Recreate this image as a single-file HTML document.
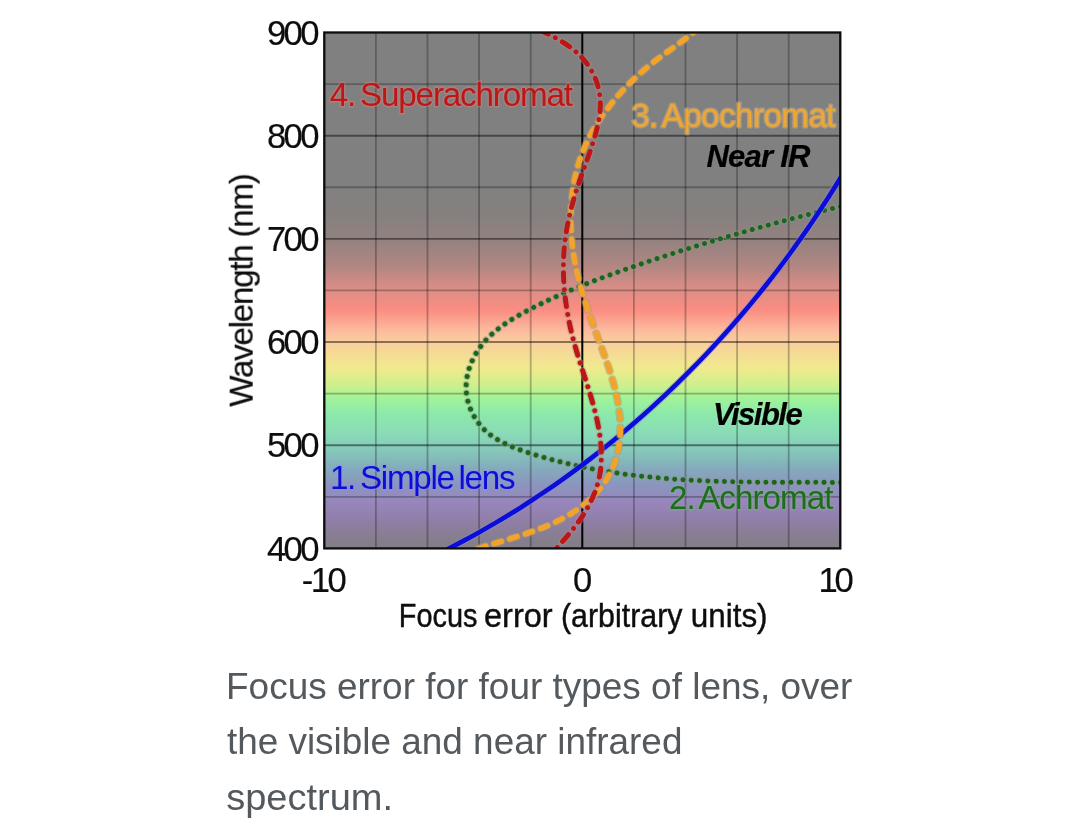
<!DOCTYPE html>
<html lang="en"><head><meta charset="utf-8"><title>Focus error for four types of lens</title>
<style>
html,body{margin:0;padding:0;background:#fff;}
body{width:1080px;height:840px;overflow:hidden;position:relative;font-family:"Liberation Sans",sans-serif;}
svg{position:absolute;left:0;top:0;display:block;}
svg text{font-family:"Liberation Sans",sans-serif;}
.gm{stroke:#000;stroke-opacity:.27;stroke-width:1.8;}
.gM{stroke:#000;stroke-opacity:.46;stroke-width:1.9;}
.cv{fill:none;stroke-linejoin:round;}
.halo{fill:none;stroke-opacity:.5;}
.lab{paint-order:stroke fill;stroke-linejoin:round;stroke-width:2.8;stroke-opacity:.36;}
</style></head>
<body>
<svg width="1080" height="840" viewBox="0 0 1080 840">
<defs>
<linearGradient id="sp" x1="0" y1="0" x2="0" y2="1"><stop offset="0.0000" stop-color="rgb(128,128,128)"/><stop offset="0.3000" stop-color="rgb(129,128,128)"/><stop offset="0.3560" stop-color="rgb(134,128,127)"/><stop offset="0.4000" stop-color="rgb(146,130,128)"/><stop offset="0.4500" stop-color="rgb(175,134,130)"/><stop offset="0.5000" stop-color="rgb(222,142,135)"/><stop offset="0.5380" stop-color="rgb(251,141,129)"/><stop offset="0.5760" stop-color="rgb(252,185,158)"/><stop offset="0.6000" stop-color="rgb(250,206,156)"/><stop offset="0.6500" stop-color="rgb(240,234,142)"/><stop offset="0.6840" stop-color="rgb(205,240,140)"/><stop offset="0.7100" stop-color="rgb(160,243,154)"/><stop offset="0.7400" stop-color="rgb(140,233,172)"/><stop offset="0.7800" stop-color="rgb(137,218,183)"/><stop offset="0.8100" stop-color="rgb(134,200,186)"/><stop offset="0.8440" stop-color="rgb(132,172,188)"/><stop offset="0.8760" stop-color="rgb(138,150,190)"/><stop offset="0.9100" stop-color="rgb(152,134,188)"/><stop offset="0.9500" stop-color="rgb(142,126,165)"/><stop offset="0.9800" stop-color="rgb(134,126,142)"/><stop offset="1.0000" stop-color="rgb(130,126,134)"/></linearGradient>
<filter id="bl" x="-5%" y="-5%" width="110%" height="110%"><feGaussianBlur stdDeviation="0.7"/></filter>
<clipPath id="cp"><rect x="324.3" y="32.5" width="516.0" height="515.9"/></clipPath>
</defs>
<g filter="url(#bl)">
<rect x="324.3" y="32.5" width="516.00" height="515.90" fill="url(#sp)"/>
<g><line x1="375.90" y1="32.50" x2="375.90" y2="548.40" class="gm"/><line x1="427.50" y1="32.50" x2="427.50" y2="548.40" class="gm"/><line x1="479.10" y1="32.50" x2="479.10" y2="548.40" class="gm"/><line x1="530.70" y1="32.50" x2="530.70" y2="548.40" class="gm"/><line x1="633.90" y1="32.50" x2="633.90" y2="548.40" class="gm"/><line x1="685.50" y1="32.50" x2="685.50" y2="548.40" class="gm"/><line x1="737.10" y1="32.50" x2="737.10" y2="548.40" class="gm"/><line x1="788.70" y1="32.50" x2="788.70" y2="548.40" class="gm"/><line x1="324.30" y1="84.09" x2="840.30" y2="84.09" class="gm"/><line x1="324.30" y1="135.68" x2="840.30" y2="135.68" class="gM"/><line x1="324.30" y1="187.27" x2="840.30" y2="187.27" class="gm"/><line x1="324.30" y1="238.86" x2="840.30" y2="238.86" class="gM"/><line x1="324.30" y1="290.45" x2="840.30" y2="290.45" class="gm"/><line x1="324.30" y1="342.04" x2="840.30" y2="342.04" class="gM"/><line x1="324.30" y1="393.63" x2="840.30" y2="393.63" class="gm"/><line x1="324.30" y1="445.22" x2="840.30" y2="445.22" class="gM"/><line x1="324.30" y1="496.81" x2="840.30" y2="496.81" class="gm"/></g>
<line x1="582.30" y1="32.5" x2="582.30" y2="548.4" stroke="#000" stroke-width="2.0"/>
<g clip-path="url(#cp)" stroke-linecap="round">
<path class="halo" d="M848.72 204.64C844.01 205.74 839.30 206.87 834.58 208.01C829.87 209.15 825.15 210.30 820.44 211.48C815.72 212.65 811.00 213.84 806.28 215.04C801.56 216.24 796.84 217.47 792.12 218.70C787.40 219.94 782.68 221.19 777.97 222.46C773.25 223.73 768.53 225.01 763.82 226.31C759.10 227.61 754.39 228.93 749.68 230.26C744.97 231.59 740.27 232.93 735.57 234.30C730.86 235.66 726.17 237.03 721.47 238.43C716.78 239.82 712.09 241.23 707.41 242.65C702.73 244.07 698.05 245.51 693.38 246.96C688.72 248.41 684.05 249.88 679.40 251.36C674.74 252.84 670.10 254.34 665.46 255.85C660.82 257.36 656.19 258.89 651.57 260.43C646.95 261.97 642.34 263.53 637.74 265.09C633.14 266.66 628.55 268.25 623.97 269.86C619.40 271.46 614.83 273.09 610.27 274.76C605.72 276.42 601.17 278.11 596.64 279.83C592.11 281.56 587.59 283.33 583.08 285.13C578.57 286.94 574.08 288.80 569.59 290.70C565.11 292.61 560.64 294.57 556.19 296.58C551.73 298.60 547.29 300.67 542.86 302.81C538.43 304.96 534.02 307.16 529.62 309.44C525.22 311.72 520.84 314.08 516.56 316.57C512.28 319.07 508.09 321.69 504.06 324.50C500.04 327.31 496.19 330.31 492.58 333.55C488.97 336.79 485.60 340.27 482.54 344.05C479.49 347.83 476.75 351.93 474.41 356.28C472.08 360.62 470.16 365.20 468.75 369.90C467.35 374.60 466.46 379.42 466.19 384.24C465.92 389.06 466.30 393.89 467.28 398.60C468.26 403.32 469.83 407.91 471.90 412.26C473.98 416.60 476.56 420.70 479.56 424.43C482.56 428.15 485.99 431.47 489.74 434.39C493.49 437.31 497.57 439.85 501.87 442.11C506.18 444.37 510.70 446.35 515.34 448.14C519.97 449.94 524.73 451.55 529.49 453.08C534.26 454.61 539.03 456.05 543.81 457.42C548.58 458.79 553.36 460.09 558.14 461.31C562.92 462.53 567.70 463.68 572.49 464.77C577.28 465.85 582.07 466.87 586.87 467.82C591.66 468.78 596.46 469.67 601.26 470.50C606.07 471.33 610.87 472.11 615.68 472.82C620.49 473.54 625.30 474.21 630.12 474.82C634.93 475.43 639.75 476.00 644.58 476.51C649.40 477.03 654.23 477.50 659.06 477.93C663.89 478.36 668.72 478.74 673.56 479.09C678.40 479.44 683.24 479.75 688.08 480.03C692.93 480.30 697.78 480.55 702.63 480.76C707.48 480.97 712.34 481.16 717.20 481.32C722.06 481.48 726.92 481.61 731.79 481.72C736.65 481.83 741.52 481.92 746.40 482.00C751.27 482.07 756.15 482.13 761.03 482.17C765.91 482.22 770.79 482.25 775.68 482.27C780.57 482.29 785.46 482.31 790.36 482.32C795.25 482.33 800.15 482.33 805.05 482.34C809.96 482.34 814.86 482.35 819.77 482.36C824.68 482.37 829.60 482.38 834.51 482.40C839.43 482.42 844.35 482.45 849.28 482.49" stroke-width="7.3" stroke="#8a9a8a" stroke-dasharray="0.01 8.29"/>
<path class="cv" d="M848.72 204.64C844.01 205.74 839.30 206.87 834.58 208.01C829.87 209.15 825.15 210.30 820.44 211.48C815.72 212.65 811.00 213.84 806.28 215.04C801.56 216.24 796.84 217.47 792.12 218.70C787.40 219.94 782.68 221.19 777.97 222.46C773.25 223.73 768.53 225.01 763.82 226.31C759.10 227.61 754.39 228.93 749.68 230.26C744.97 231.59 740.27 232.93 735.57 234.30C730.86 235.66 726.17 237.03 721.47 238.43C716.78 239.82 712.09 241.23 707.41 242.65C702.73 244.07 698.05 245.51 693.38 246.96C688.72 248.41 684.05 249.88 679.40 251.36C674.74 252.84 670.10 254.34 665.46 255.85C660.82 257.36 656.19 258.89 651.57 260.43C646.95 261.97 642.34 263.53 637.74 265.09C633.14 266.66 628.55 268.25 623.97 269.86C619.40 271.46 614.83 273.09 610.27 274.76C605.72 276.42 601.17 278.11 596.64 279.83C592.11 281.56 587.59 283.33 583.08 285.13C578.57 286.94 574.08 288.80 569.59 290.70C565.11 292.61 560.64 294.57 556.19 296.58C551.73 298.60 547.29 300.67 542.86 302.81C538.43 304.96 534.02 307.16 529.62 309.44C525.22 311.72 520.84 314.08 516.56 316.57C512.28 319.07 508.09 321.69 504.06 324.50C500.04 327.31 496.19 330.31 492.58 333.55C488.97 336.79 485.60 340.27 482.54 344.05C479.49 347.83 476.75 351.93 474.41 356.28C472.08 360.62 470.16 365.20 468.75 369.90C467.35 374.60 466.46 379.42 466.19 384.24C465.92 389.06 466.30 393.89 467.28 398.60C468.26 403.32 469.83 407.91 471.90 412.26C473.98 416.60 476.56 420.70 479.56 424.43C482.56 428.15 485.99 431.47 489.74 434.39C493.49 437.31 497.57 439.85 501.87 442.11C506.18 444.37 510.70 446.35 515.34 448.14C519.97 449.94 524.73 451.55 529.49 453.08C534.26 454.61 539.03 456.05 543.81 457.42C548.58 458.79 553.36 460.09 558.14 461.31C562.92 462.53 567.70 463.68 572.49 464.77C577.28 465.85 582.07 466.87 586.87 467.82C591.66 468.78 596.46 469.67 601.26 470.50C606.07 471.33 610.87 472.11 615.68 472.82C620.49 473.54 625.30 474.21 630.12 474.82C634.93 475.43 639.75 476.00 644.58 476.51C649.40 477.03 654.23 477.50 659.06 477.93C663.89 478.36 668.72 478.74 673.56 479.09C678.40 479.44 683.24 479.75 688.08 480.03C692.93 480.30 697.78 480.55 702.63 480.76C707.48 480.97 712.34 481.16 717.20 481.32C722.06 481.48 726.92 481.61 731.79 481.72C736.65 481.83 741.52 481.92 746.40 482.00C751.27 482.07 756.15 482.13 761.03 482.17C765.91 482.22 770.79 482.25 775.68 482.27C780.57 482.29 785.46 482.31 790.36 482.32C795.25 482.33 800.15 482.33 805.05 482.34C809.96 482.34 814.86 482.35 819.77 482.36C824.68 482.37 829.60 482.38 834.51 482.40C839.43 482.42 844.35 482.45 849.28 482.49" stroke="#1a661c" stroke-width="5" stroke-dasharray="0.01 8.29"/>
<path class="halo" d="M445.46 550.25C451.16 547.36 456.84 544.41 462.48 541.40C468.12 538.39 473.73 535.32 479.30 532.19C484.87 529.07 490.40 525.88 495.90 522.64C501.40 519.40 506.87 516.10 512.30 512.74C517.72 509.39 523.12 505.98 528.47 502.51C533.83 499.04 539.14 495.52 544.42 491.95C549.70 488.37 554.95 484.75 560.15 481.07C565.36 477.39 570.53 473.65 575.66 469.87C580.79 466.08 585.88 462.25 590.93 458.36C595.98 454.47 600.99 450.54 605.97 446.55C610.94 442.57 615.87 438.53 620.77 434.45C625.66 430.36 630.52 426.23 635.33 422.06C640.14 417.88 644.92 413.65 649.65 409.38C654.38 405.11 659.07 400.79 663.72 396.43C668.37 392.07 672.98 387.66 677.54 383.21C682.11 378.76 686.63 374.27 691.11 369.73C695.59 365.19 700.03 360.61 704.43 355.99C708.82 351.37 713.17 346.71 717.48 342.01C721.79 337.30 726.05 332.56 730.27 327.78C734.49 322.99 738.67 318.17 742.80 313.31C746.93 308.45 751.01 303.56 755.05 298.62C759.09 293.69 763.09 288.71 767.04 283.71C770.99 278.70 774.89 273.65 778.75 268.57C782.60 263.50 786.42 258.38 790.18 253.24C793.94 248.09 797.66 242.91 801.33 237.69C805.00 232.48 808.62 227.23 812.19 221.96C815.77 216.68 819.29 211.37 822.77 206.03C826.24 200.69 829.67 195.32 833.05 189.92C836.43 184.52 839.76 179.09 843.04 173.63" stroke-width="6.8" stroke="#9090c0" stroke-linecap="butt"/>
<path class="cv" d="M445.46 550.25C451.16 547.36 456.84 544.41 462.48 541.40C468.12 538.39 473.73 535.32 479.30 532.19C484.87 529.07 490.40 525.88 495.90 522.64C501.40 519.40 506.87 516.10 512.30 512.74C517.72 509.39 523.12 505.98 528.47 502.51C533.83 499.04 539.14 495.52 544.42 491.95C549.70 488.37 554.95 484.75 560.15 481.07C565.36 477.39 570.53 473.65 575.66 469.87C580.79 466.08 585.88 462.25 590.93 458.36C595.98 454.47 600.99 450.54 605.97 446.55C610.94 442.57 615.87 438.53 620.77 434.45C625.66 430.36 630.52 426.23 635.33 422.06C640.14 417.88 644.92 413.65 649.65 409.38C654.38 405.11 659.07 400.79 663.72 396.43C668.37 392.07 672.98 387.66 677.54 383.21C682.11 378.76 686.63 374.27 691.11 369.73C695.59 365.19 700.03 360.61 704.43 355.99C708.82 351.37 713.17 346.71 717.48 342.01C721.79 337.30 726.05 332.56 730.27 327.78C734.49 322.99 738.67 318.17 742.80 313.31C746.93 308.45 751.01 303.56 755.05 298.62C759.09 293.69 763.09 288.71 767.04 283.71C770.99 278.70 774.89 273.65 778.75 268.57C782.60 263.50 786.42 258.38 790.18 253.24C793.94 248.09 797.66 242.91 801.33 237.69C805.00 232.48 808.62 227.23 812.19 221.96C815.77 216.68 819.29 211.37 822.77 206.03C826.24 200.69 829.67 195.32 833.05 189.92C836.43 184.52 839.76 179.09 843.04 173.63" stroke="#0808da" stroke-width="4.6" stroke-linecap="butt"/>
<path class="halo" d="M698.43 27.67C695.11 30.83 691.66 33.78 688.12 36.59C684.59 39.41 680.98 42.10 677.34 44.73C673.70 47.37 670.02 49.95 666.37 52.57C662.72 55.19 659.08 57.83 655.52 60.58C651.95 63.33 648.44 66.18 645.01 69.12C641.57 72.05 638.20 75.08 634.91 78.19C631.63 81.30 628.42 84.49 625.30 87.77C622.17 91.04 619.14 94.40 616.20 97.83C613.26 101.27 610.42 104.78 607.68 108.36C604.94 111.94 602.30 115.59 599.80 119.32C597.29 123.05 594.91 126.85 592.69 130.75C590.47 134.65 588.41 138.64 586.53 142.72C584.64 146.80 582.93 150.97 581.39 155.20C579.85 159.43 578.48 163.72 577.29 168.06C576.10 172.40 575.08 176.79 574.23 181.22C573.37 185.65 572.68 190.11 572.15 194.60C571.61 199.09 571.23 203.61 571.00 208.13C570.77 212.66 570.69 217.20 570.75 221.74C570.81 226.28 571.00 230.82 571.33 235.34C571.67 239.87 572.13 244.39 572.72 248.88C573.30 253.37 574.02 257.83 574.85 262.26C575.68 266.70 576.62 271.09 577.67 275.44C578.72 279.80 579.87 284.13 581.10 288.43C582.33 292.73 583.64 297.01 585.01 301.28C586.39 305.54 587.83 309.80 589.31 314.04C590.79 318.29 592.31 322.53 593.86 326.78C595.41 331.02 596.99 335.27 598.57 339.54C600.15 343.80 601.74 348.08 603.30 352.37C604.86 356.66 606.40 360.97 607.86 365.29C609.33 369.62 610.74 373.96 612.03 378.31C613.33 382.67 614.53 387.04 615.58 391.42C616.64 395.81 617.55 400.21 618.29 404.63C619.02 409.05 619.58 413.49 619.92 417.95C620.26 422.40 620.39 426.87 620.26 431.36C620.13 435.85 619.74 440.36 619.07 444.83C618.40 449.30 617.45 453.73 616.18 458.06C614.92 462.39 613.33 466.62 611.40 470.69C609.48 474.76 607.20 478.67 604.64 482.40C602.08 486.13 599.23 489.68 596.16 493.04C593.09 496.40 589.80 499.56 586.34 502.51C582.89 505.45 579.28 508.18 575.56 510.70C571.83 513.23 567.98 515.55 564.03 517.70C560.09 519.86 556.04 521.85 551.93 523.70C547.81 525.56 543.62 527.28 539.38 528.90C535.14 530.52 530.85 532.04 526.53 533.49C522.22 534.94 517.88 536.32 513.54 537.67C509.20 539.02 504.86 540.33 500.54 541.63C496.22 542.94 491.93 544.25 487.68 545.58C483.43 546.92 479.23 548.28 475.11 549.71" stroke-width="8" stroke="#a89878" stroke-dasharray="7.6 8.7"/>
<path class="cv" d="M698.43 27.67C695.11 30.83 691.66 33.78 688.12 36.59C684.59 39.41 680.98 42.10 677.34 44.73C673.70 47.37 670.02 49.95 666.37 52.57C662.72 55.19 659.08 57.83 655.52 60.58C651.95 63.33 648.44 66.18 645.01 69.12C641.57 72.05 638.20 75.08 634.91 78.19C631.63 81.30 628.42 84.49 625.30 87.77C622.17 91.04 619.14 94.40 616.20 97.83C613.26 101.27 610.42 104.78 607.68 108.36C604.94 111.94 602.30 115.59 599.80 119.32C597.29 123.05 594.91 126.85 592.69 130.75C590.47 134.65 588.41 138.64 586.53 142.72C584.64 146.80 582.93 150.97 581.39 155.20C579.85 159.43 578.48 163.72 577.29 168.06C576.10 172.40 575.08 176.79 574.23 181.22C573.37 185.65 572.68 190.11 572.15 194.60C571.61 199.09 571.23 203.61 571.00 208.13C570.77 212.66 570.69 217.20 570.75 221.74C570.81 226.28 571.00 230.82 571.33 235.34C571.67 239.87 572.13 244.39 572.72 248.88C573.30 253.37 574.02 257.83 574.85 262.26C575.68 266.70 576.62 271.09 577.67 275.44C578.72 279.80 579.87 284.13 581.10 288.43C582.33 292.73 583.64 297.01 585.01 301.28C586.39 305.54 587.83 309.80 589.31 314.04C590.79 318.29 592.31 322.53 593.86 326.78C595.41 331.02 596.99 335.27 598.57 339.54C600.15 343.80 601.74 348.08 603.30 352.37C604.86 356.66 606.40 360.97 607.86 365.29C609.33 369.62 610.74 373.96 612.03 378.31C613.33 382.67 614.53 387.04 615.58 391.42C616.64 395.81 617.55 400.21 618.29 404.63C619.02 409.05 619.58 413.49 619.92 417.95C620.26 422.40 620.39 426.87 620.26 431.36C620.13 435.85 619.74 440.36 619.07 444.83C618.40 449.30 617.45 453.73 616.18 458.06C614.92 462.39 613.33 466.62 611.40 470.69C609.48 474.76 607.20 478.67 604.64 482.40C602.08 486.13 599.23 489.68 596.16 493.04C593.09 496.40 589.80 499.56 586.34 502.51C582.89 505.45 579.28 508.18 575.56 510.70C571.83 513.23 567.98 515.55 564.03 517.70C560.09 519.86 556.04 521.85 551.93 523.70C547.81 525.56 543.62 527.28 539.38 528.90C535.14 530.52 530.85 532.04 526.53 533.49C522.22 534.94 517.88 536.32 513.54 537.67C509.20 539.02 504.86 540.33 500.54 541.63C496.22 542.94 491.93 544.25 487.68 545.58C483.43 546.92 479.23 548.28 475.11 549.71" stroke="#f2a42c" stroke-width="5.6" stroke-dasharray="7.6 8.7"/>
<path class="halo" d="M540.04 30.34C542.83 31.58 545.68 32.89 548.54 34.29C551.41 35.70 554.28 37.19 557.13 38.78C559.97 40.38 562.78 42.07 565.52 43.88C568.25 45.69 570.91 47.61 573.45 49.66C575.98 51.70 578.40 53.88 580.64 56.19C582.88 58.51 584.96 60.96 586.86 63.53C588.75 66.10 590.47 68.78 591.99 71.56C593.51 74.35 594.84 77.22 595.97 80.17C597.09 83.13 598.01 86.15 598.70 89.23C599.40 92.31 599.88 95.44 600.12 98.60C600.37 101.76 600.38 104.96 600.20 108.16C600.01 111.37 599.64 114.58 599.13 117.78C598.62 120.99 597.98 124.18 597.24 127.34C596.51 130.50 595.68 133.64 594.78 136.75C593.89 139.86 592.92 142.95 591.91 146.02C590.90 149.09 589.85 152.15 588.78 155.18C587.71 158.22 586.62 161.23 585.53 164.24C584.44 167.24 583.36 170.24 582.29 173.24C581.21 176.24 580.16 179.24 579.13 182.26C578.10 185.28 577.09 188.31 576.13 191.37C575.16 194.43 574.23 197.50 573.35 200.60C572.46 203.70 571.62 206.81 570.83 209.94C570.04 213.07 569.30 216.21 568.62 219.36C567.94 222.51 567.32 225.68 566.76 228.85C566.20 232.02 565.71 235.20 565.29 238.39C564.87 241.57 564.52 244.76 564.25 247.95C563.97 251.14 563.76 254.33 563.62 257.53C563.48 260.72 563.41 263.92 563.41 267.12C563.40 270.32 563.46 273.51 563.58 276.71C563.70 279.91 563.88 283.10 564.12 286.29C564.36 289.49 564.66 292.68 565.02 295.86C565.38 299.05 565.79 302.23 566.26 305.41C566.73 308.59 567.25 311.76 567.82 314.93C568.40 318.09 569.02 321.25 569.69 324.40C570.37 327.55 571.09 330.70 571.86 333.83C572.62 336.97 573.44 340.09 574.29 343.20C575.15 346.32 576.05 349.42 576.97 352.52C577.90 355.62 578.85 358.71 579.83 361.79C580.80 364.87 581.79 367.95 582.78 371.03C583.78 374.10 584.77 377.18 585.76 380.25C586.75 383.32 587.73 386.40 588.69 389.47C589.65 392.55 590.58 395.63 591.49 398.71C592.39 401.79 593.26 404.88 594.08 407.97C594.90 411.07 595.68 414.17 596.40 417.28C597.11 420.40 597.77 423.52 598.36 426.65C598.94 429.79 599.46 432.93 599.89 436.10C600.31 439.26 600.66 442.43 600.91 445.63C601.16 448.82 601.31 452.03 601.33 455.24C601.36 458.46 601.26 461.67 601.02 464.87C600.78 468.07 600.38 471.25 599.82 474.41C599.25 477.56 598.53 480.69 597.65 483.78C596.78 486.87 595.76 489.92 594.60 492.92C593.43 495.92 592.13 498.86 590.71 501.75C589.29 504.64 587.75 507.48 586.11 510.26C584.46 513.04 582.72 515.76 580.90 518.43C579.08 521.10 577.18 523.71 575.22 526.27C573.26 528.83 571.24 531.35 569.18 533.82C567.12 536.29 565.02 538.71 562.90 541.10C560.78 543.49 558.64 545.84 556.51 548.16" stroke-width="7.3" stroke="#b58a8a" stroke-dasharray="9 8 0.01 8"/>
<path class="cv" d="M540.04 30.34C542.83 31.58 545.68 32.89 548.54 34.29C551.41 35.70 554.28 37.19 557.13 38.78C559.97 40.38 562.78 42.07 565.52 43.88C568.25 45.69 570.91 47.61 573.45 49.66C575.98 51.70 578.40 53.88 580.64 56.19C582.88 58.51 584.96 60.96 586.86 63.53C588.75 66.10 590.47 68.78 591.99 71.56C593.51 74.35 594.84 77.22 595.97 80.17C597.09 83.13 598.01 86.15 598.70 89.23C599.40 92.31 599.88 95.44 600.12 98.60C600.37 101.76 600.38 104.96 600.20 108.16C600.01 111.37 599.64 114.58 599.13 117.78C598.62 120.99 597.98 124.18 597.24 127.34C596.51 130.50 595.68 133.64 594.78 136.75C593.89 139.86 592.92 142.95 591.91 146.02C590.90 149.09 589.85 152.15 588.78 155.18C587.71 158.22 586.62 161.23 585.53 164.24C584.44 167.24 583.36 170.24 582.29 173.24C581.21 176.24 580.16 179.24 579.13 182.26C578.10 185.28 577.09 188.31 576.13 191.37C575.16 194.43 574.23 197.50 573.35 200.60C572.46 203.70 571.62 206.81 570.83 209.94C570.04 213.07 569.30 216.21 568.62 219.36C567.94 222.51 567.32 225.68 566.76 228.85C566.20 232.02 565.71 235.20 565.29 238.39C564.87 241.57 564.52 244.76 564.25 247.95C563.97 251.14 563.76 254.33 563.62 257.53C563.48 260.72 563.41 263.92 563.41 267.12C563.40 270.32 563.46 273.51 563.58 276.71C563.70 279.91 563.88 283.10 564.12 286.29C564.36 289.49 564.66 292.68 565.02 295.86C565.38 299.05 565.79 302.23 566.26 305.41C566.73 308.59 567.25 311.76 567.82 314.93C568.40 318.09 569.02 321.25 569.69 324.40C570.37 327.55 571.09 330.70 571.86 333.83C572.62 336.97 573.44 340.09 574.29 343.20C575.15 346.32 576.05 349.42 576.97 352.52C577.90 355.62 578.85 358.71 579.83 361.79C580.80 364.87 581.79 367.95 582.78 371.03C583.78 374.10 584.77 377.18 585.76 380.25C586.75 383.32 587.73 386.40 588.69 389.47C589.65 392.55 590.58 395.63 591.49 398.71C592.39 401.79 593.26 404.88 594.08 407.97C594.90 411.07 595.68 414.17 596.40 417.28C597.11 420.40 597.77 423.52 598.36 426.65C598.94 429.79 599.46 432.93 599.89 436.10C600.31 439.26 600.66 442.43 600.91 445.63C601.16 448.82 601.31 452.03 601.33 455.24C601.36 458.46 601.26 461.67 601.02 464.87C600.78 468.07 600.38 471.25 599.82 474.41C599.25 477.56 598.53 480.69 597.65 483.78C596.78 486.87 595.76 489.92 594.60 492.92C593.43 495.92 592.13 498.86 590.71 501.75C589.29 504.64 587.75 507.48 586.11 510.26C584.46 513.04 582.72 515.76 580.90 518.43C579.08 521.10 577.18 523.71 575.22 526.27C573.26 528.83 571.24 531.35 569.18 533.82C567.12 536.29 565.02 538.71 562.90 541.10C560.78 543.49 558.64 545.84 556.51 548.16" stroke="#bc1212" stroke-width="4.9" stroke-dasharray="9 8 0.01 8"/>
</g>
<rect x="324.3" y="32.5" width="516.00" height="515.90" fill="none" stroke="#111" stroke-width="2.35"/>
<text x="266.95" y="44.5" textLength="52.5" lengthAdjust="spacing" style="font-size:34.6px;fill:#111;stroke:#111;stroke-width:0.2;">900</text>
<text x="266.95" y="147.7" textLength="52.5" lengthAdjust="spacing" style="font-size:34.6px;fill:#111;stroke:#111;stroke-width:0.2;">800</text>
<text x="266.95" y="250.9" textLength="52.5" lengthAdjust="spacing" style="font-size:34.6px;fill:#111;stroke:#111;stroke-width:0.2;">700</text>
<text x="266.95" y="354.1" textLength="52.5" lengthAdjust="spacing" style="font-size:34.6px;fill:#111;stroke:#111;stroke-width:0.2;">600</text>
<text x="266.95" y="457.3" textLength="52.5" lengthAdjust="spacing" style="font-size:34.6px;fill:#111;stroke:#111;stroke-width:0.2;">500</text>
<text x="266.95" y="560.5" textLength="52.5" lengthAdjust="spacing" style="font-size:34.6px;fill:#111;stroke:#111;stroke-width:0.2;">400</text>
<text x="301.75" y="591.8" textLength="44.87" lengthAdjust="spacing" style="font-size:34.6px;fill:#111;stroke:#111;stroke-width:0.2;">-10</text>
<text x="573.0" y="591.8" style="font-size:34.6px;fill:#111;stroke:#111;stroke-width:0.2;">0</text>
<text x="818.4" y="591.8" textLength="35.29" lengthAdjust="spacing" style="font-size:34.6px;fill:#111;stroke:#111;stroke-width:0.2;">10</text>
<text transform="translate(252.7 406.8) rotate(-90)" textLength="233.62" lengthAdjust="spacing" style="font-size:33.2px;fill:#111;stroke:#111;stroke-width:0.2;">Wavelength (nm)</text>
<text x="329.7" y="106.2" textLength="243.21" lengthAdjust="spacing" class="lab" style="font-size:33.2px;fill:#bd1717;word-spacing:-3px;stroke:#e8817f;">4. Superachromat</text>
<text x="631.2" y="127.4" textLength="204.36" lengthAdjust="spacing" class="lab" style="font-size:33.2px;fill:#f0a733;word-spacing:-3px;stroke:#f6c77a;">3. Apochromat</text>
<text x="329.95" y="489.0" textLength="185.59" lengthAdjust="spacing" class="lab" style="font-size:33.2px;fill:#0c0cd6;word-spacing:-3px;stroke:#8c8cf0;">1. Simple lens</text>
<text x="668.95" y="509.3" textLength="164.56" lengthAdjust="spacing" class="lab" style="font-size:33.2px;fill:#1e6e1e;word-spacing:-3px;stroke:#7db87d;">2. Achromat</text>
<text x="706.5" y="167" textLength="103.95" lengthAdjust="spacing" style="font-size:31px;font-weight:bold;font-style:italic;fill:#000;stroke:#000;stroke-width:0.2;">Near IR</text>
<text x="712.95" y="424.7" textLength="89.78" lengthAdjust="spacing" style="font-size:31px;font-weight:bold;font-style:italic;fill:#000;stroke:#000;stroke-width:0.2;">Visible</text>
<text y="626.8" style="font-size:33.2px;fill:#111;stroke:#111;stroke-width:0.45;"><tspan x="398.75" textLength="78.74" lengthAdjust="spacingAndGlyphs">Focus</tspan> <tspan x="484.0" textLength="68.71" lengthAdjust="spacingAndGlyphs">error</tspan> <tspan x="561.0" textLength="121.48" lengthAdjust="spacingAndGlyphs">(arbitrary</tspan> <tspan x="690.75" textLength="76.79" lengthAdjust="spacingAndGlyphs">units)</tspan></text>
</g>
<text x="226.05" y="698.6" textLength="626.32" lengthAdjust="spacingAndGlyphs" style="font-size:37.3px;fill:#54595d;">Focus error for four types of lens, over</text>
<text x="226.9" y="754.2" textLength="455.52" lengthAdjust="spacingAndGlyphs" style="font-size:37.3px;fill:#54595d;">the visible and near infrared</text>
<text x="226.15" y="809.7" textLength="166.92" lengthAdjust="spacingAndGlyphs" style="font-size:37.3px;fill:#54595d;">spectrum.</text>
</svg>
</body></html>
